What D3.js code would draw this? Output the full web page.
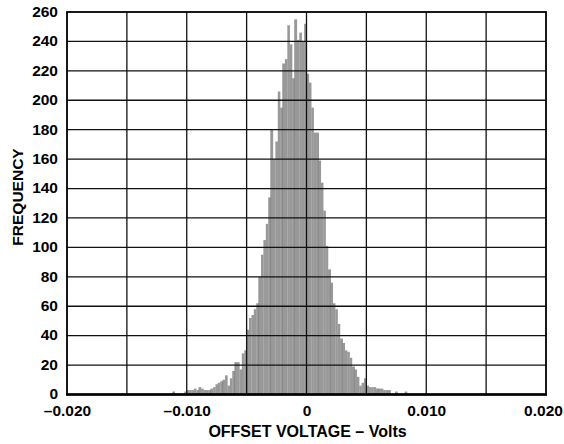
<!DOCTYPE html>
<html>
<head>
<meta charset="utf-8">
<script src="https://cdn.jsdelivr.net/npm/d3@7"></script>
<style>
  html, body { margin: 0; padding: 0; background: #fff; }
  svg text { font-family: "Liberation Sans", Arial, Helvetica, sans-serif; font-weight: bold; fill: #000; }
</style>
</head>
<body>
<svg id="chart" width="564" height="444"></svg>
<script>
// ---- data ----
const binStartV = -0.0114;   // first bin lower edge (V)
const binWidthV = 0.0002;    // bin width (V)
const counts = [
  0, 2, 0, 0, 0, 0, 2, 3, 3, 3,
  4, 3, 5, 4, 3, 3, 3, 4, 5, 7,
  8, 9, 10, 13, 6, 11, 16, 22, 22, 17,
  28, 30, 44, 52, 54, 58, 62, 80, 95, 105,
  116, 134, 180, 160, 172, 206, 195, 225, 228, 251,
  238, 215, 255, 241, 246, 240, 252, 218, 212, 195,
  178, 178, 159, 144, 125, 101, 85, 76, 62, 58,
  48, 38, 35, 30, 29, 25, 19, 17, 12, 6,
  8, 11, 6, 5, 5, 5, 4, 4, 4, 3,
  3, 3, 0, 0, 2, 0, 0, 0, 2
];
const xTickValues = [-0.020, -0.015, -0.010, -0.005, 0, 0.005, 0.010, 0.015, 0.020];
const xTickLabels = ["\u20130.020", "", "\u20130.010", "", "0", "", "0.010", "", "0.020"];
const yTickValues = [0, 20, 40, 60, 80, 100, 120, 140, 160, 180, 200, 220, 240, 260];
const xTitle = "OFFSET VOLTAGE \u2013 Volts";
const yTitle = "FREQUENCY";

const bins = counts.map((c, i) => ({ x0: binStartV + i * binWidthV, x1: binStartV + (i + 1) * binWidthV, n: c }));

// ---- layout ----
const L = 67, R = 546, T = 12, B = 394.5;
const svg = d3.select("#chart");
const x = d3.scaleLinear().domain([-0.02, 0.02]).range([L, R]);
const y = d3.scaleLinear().domain([0, 260]).range([B, T]);

// bars
const defs = svg.append("defs");
const clip = defs.append("clipPath").attr("id", "barclip");
const barData = bins.filter(d => d.n > 0);
clip.selectAll("rect").data(barData).enter().append("rect")
  .attr("x", d => x(d.x0)).attr("width", d => x(d.x1) - x(d.x0) + 0.2)
  .attr("y", d => y(d.n)).attr("height", d => y(0) - y(d.n));

svg.append("g").selectAll("rect").data(barData).enter().append("rect")
  .attr("x", d => x(d.x0)).attr("width", d => x(d.x1) - x(d.x0) + 0.2)
  .attr("y", d => y(d.n)).attr("height", d => y(0) - y(d.n))
  .attr("fill", "#999999");

// faint darker stripes inside bars
svg.append("g").attr("clip-path", "url(#barclip)")
  .selectAll("line").data(d3.range(-11, 9).map(k => k * 0.001)).enter().append("line")
  .attr("x1", d => x(d)).attr("x2", d => x(d))
  .attr("y1", T).attr("y2", B)
  .attr("stroke", "#858585").attr("stroke-width", 1);

// grid
const grid = svg.append("g");
grid.selectAll("line.v").data(xTickValues.slice(1, -1)).enter().append("line")
  .attr("x1", d => x(d)).attr("x2", d => x(d)).attr("y1", T).attr("y2", B)
  .attr("stroke", "#111").attr("stroke-width", 1.3);
grid.selectAll("line.h").data(yTickValues.slice(1, -1)).enter().append("line")
  .attr("x1", L).attr("x2", R).attr("y1", d => y(d)).attr("y2", d => y(d))
  .attr("stroke", "#111").attr("stroke-width", 1.3);

// frame
svg.append("rect").attr("x", L).attr("y", T).attr("width", R - L).attr("height", B - T)
  .attr("fill", "none").attr("stroke", "#000").attr("stroke-width", 1.8);
svg.append("line").attr("x1", L - 1).attr("x2", R + 1).attr("y1", B).attr("y2", B)
  .attr("stroke", "#000").attr("stroke-width", 2.4);

// axes (labels only)
const xAxis = d3.axisBottom(x).tickValues(xTickValues)
  .tickFormat((d, i) => xTickLabels[i]).tickSize(0).tickPadding(10);
const gx = svg.append("g").attr("transform", `translate(0,${B})`).call(xAxis);
gx.select(".domain").remove();
gx.selectAll("text").attr("font-size", 15.5).attr("font-family", null).attr("dy", "0.71em")
  .attr("dx", (d, i) => i === xTickValues.length - 1 ? -3 : 0);

const yAxis = d3.axisLeft(y).tickValues(yTickValues).tickSize(0).tickPadding(9);
const gy = svg.append("g").attr("transform", `translate(${L},0)`).call(yAxis);
gy.select(".domain").remove();
gy.selectAll("text").attr("font-size", 15.5).attr("font-family", null).attr("dy", "0.28em");

// titles
svg.append("text").attr("x", (L + R) / 2 + 1).attr("y", 437).attr("text-anchor", "middle")
  .attr("font-size", 16).text(xTitle);
svg.append("text").attr("transform", `translate(23,197) rotate(-90)`)
  .attr("text-anchor", "middle").attr("font-size", 15.5).text(yTitle);
</script>
</body>
</html>
